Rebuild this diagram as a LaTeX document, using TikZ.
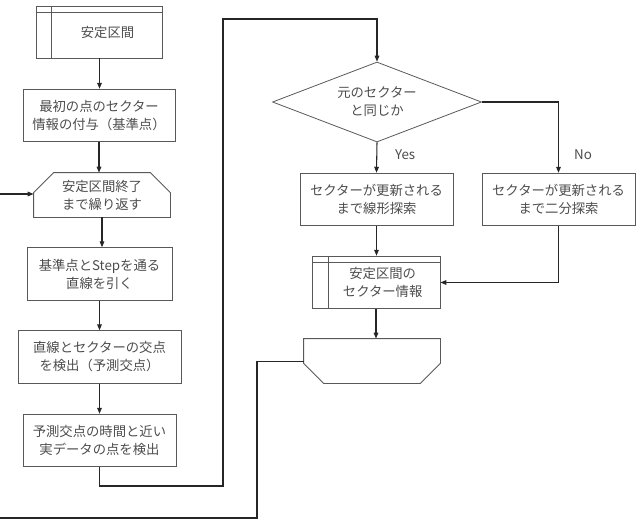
\documentclass[tikz,border=0pt]{standalone}
\usepackage{fontspec}
\setmainfont{Noto Sans CJK JP}
\usetikzlibrary{arrows.meta,shapes.geometric}
\begin{document}
\begin{tikzpicture}[x=0.75pt,y=-0.75pt,font=\fontsize{10pt}{13.5pt}\selectfont,text=black!70,
  boite/.style={draw=black!65,line width=0.6pt,align=center,inner sep=0pt,minimum height=39.5pt},
  trait/.style={draw=black!65,line width=0.6pt},
  fleche/.style={-{Triangle[length=4.5pt,width=3.5pt]},line width=0.8pt,draw=black!85}]
\useasboundingbox (0,0) rectangle (636,529);
% colonne de gauche
\node[boite,minimum width=95pt,minimum height=39pt] (t0) at (99.5,32) {\hspace*{12pt}安定区間};
\draw[trait] ([yshift=-5pt]t0.north west) -- ([yshift=-5pt]t0.north east)
  ([xshift=12pt]t0.north west) -- ([xshift=12pt]t0.south west);
\node[boite,draw=none,minimum width=102pt,minimum height=33pt] (t2) at (102,195) {安定区間終了\\まで繰り返す};
\draw[trait] ([xshift=15pt]t2.north west) -- ([xshift=-15pt]t2.north east) -- ([yshift=-15pt]t2.north east)
  -- (t2.south east) -- (t2.south west) -- ([yshift=-15pt]t2.north west) -- cycle;
\foreach \i/\x/\y/\w/\txt in {1/99/115.5/114/最初の点のセクター\\情報の付与（基準点）,
    3/99.5/274/108.75/基準点とStepを通る\\直線を引く,
    4/99.5/357/122.25/直線とセクターの交点\\を検出（予測交点）,
    5/99.5/440.5/114.75/予測交点の時間と近い\\実データの点を検出}
  \node[boite,minimum width=\w pt] (t\i) at (\x,\y) {\txt};
\foreach \i in {1,2,3,4,5}
  {\pgfmathsetmacro\j{int(\i - 1)}
  \draw[fleche] (t\j.south) -- (t\j.south |- t\i.north);};
% colonne de droite
\node[boite,diamond,aspect=2.6,minimum width=156.75pt,minimum height=60pt] (d) at (377,102) {元のセクター\\と同じか};
\node[boite,minimum width=114.75pt] (oui) at (376.5,199.5) {セクターが更新される\\まで線形探索};
\node[boite,minimum width=114.75pt] (non) at (558.5,199.5) {セクターが更新される\\まで二分探索};
\node[boite,minimum width=96pt] (info) at (376,282.5) {\hspace*{10pt}安定区間の\\\hspace*{10pt}セクター情報};
\draw[trait] ([yshift=-5pt]info.north west) -- ([yshift=-5pt]info.north east)
  ([xshift=12.5pt]info.north west) -- ([xshift=12.5pt]info.south west);
\node[boite,draw=none,minimum width=102pt,minimum height=33pt] (fin) at (372,361) {};
\draw[trait] (fin.north west) -- (fin.north east) -- ([yshift=15pt]fin.south east) -- ([xshift=-15pt]fin.south east)
  -- ([xshift=15pt]fin.south west) -- ([yshift=15pt]fin.south west) -- cycle;
% liaisons
\coordinate (k1) at (223,486);
\coordinate (k2) at (223,19);
\coordinate (k3) at (257,518);
\coordinate (sortie) at (0,518);
\coordinate (entree) at (0,194);
\draw[fleche] (t5.south) |- (k1) -- (k2) -| (d.north);
\draw[fleche] (d.south) -- (oui.north) node[pos=0.4,right=10pt]{Yes};
\draw[fleche] (d.east) -| (non.north) node[pos=0.87,right=8pt]{No};
\draw[fleche] (oui.south) -- (oui.south |- info.north);
\draw[fleche] (non.south) |- (info.east);
\draw[fleche] (info.south) -- (info.south |- fin.north);
\draw[line width=0.8pt,black!85] ([yshift=-17pt]fin.north west) -| (k3) -- (sortie);
\draw[fleche] (entree) -- (entree -| t2.west);
\end{tikzpicture}
\end{document}
